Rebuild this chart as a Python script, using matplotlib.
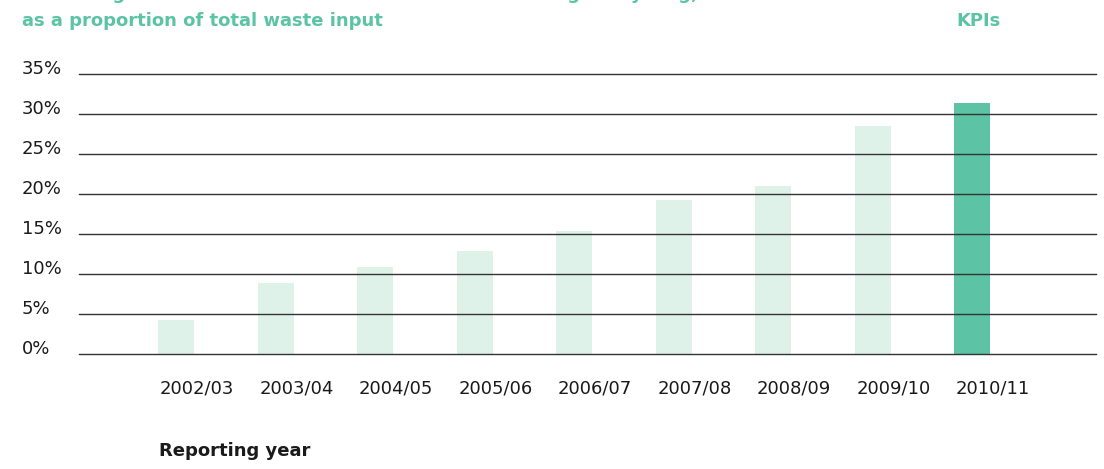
import matplotlib
matplotlib.use("Agg")
import matplotlib.pyplot as plt
import matplotlib.transforms as mtransforms

# data
years = ["2002/03", "2003/04", "2004/05", "2005/06", "2006/07",
         "2007/08", "2008/09", "2009/10", "2010/11"]
values = [4.3, 8.9, 10.9, 12.9, 15.4, 19.3, 21.0, 28.5, 31.4]
y_ticks = [0, 5, 10, 15, 20, 25, 30, 35]
y_labels = ["0%", "5%", "10%", "15%", "20%", "25%", "30%", "35%"]

title_top = "Percentage of total waste diverted from landfill through recycling,"
title_bottom = "as a proportion of total waste input"

green = "#5cc4a4"
pale = "#dff2ea"
plt.rcParams["font.family"] = ["DejaVu Sans"]

fig = plt.figure(figsize=(11.04, 4.69), dpi=100)
ax = fig.add_axes([79 / 1104, 1 - 354.3 / 469, 1017 / 1104, 280 / 469])

x = list(range(len(years)))
colors = [pale] * (len(years) - 1) + [green]
ax.bar(x, values, width=0.362, color=colors, zorder=1)

for t in y_ticks:
    ax.axhline(t, color="#333333", lw=1.0, zorder=2, clip_on=False)

ax.set_xlim(-0.975, 9.246)
ax.set_ylim(0, 35)
for s in ax.spines.values():
    s.set_visible(False)
ax.set_yticks([])
ax.set_xticks(x)
ax.set_xticklabels(years, fontsize=13, color="#1a1a1a")
ax.tick_params(axis="x", length=0, pad=18)
# year labels sit a little right of the bars in the reference
shift = mtransforms.ScaledTranslation(21 / 100, 0, fig.dpi_scale_trans)
for lab in ax.get_xticklabels():
    lab.set_transform(lab.get_transform() + shift)

# y labels left aligned at the figure's left, a bit above each line
trans = mtransforms.blended_transform_factory(fig.transFigure, ax.transData)
off = mtransforms.offset_copy(trans, fig=fig, y=5, units="dots")
for t, lab in zip(y_ticks, y_labels):
    ax.text(22 / 1104, t, lab, transform=off, ha="left", va="center",
            fontsize=13, color="#1a1a1a", clip_on=False)

# first title line is cut by the top edge in the reference
fig.text(22 / 1104, 1 + 0.5 / 469, title_top, fontsize=13, fontweight="bold",
         color=green, ha="left", va="baseline")
fig.text(22 / 1104, 1 - 26 / 469, title_bottom, fontsize=13, fontweight="bold",
         color=green, ha="left", va="baseline")
fig.text(956 / 1104, 1 - 26 / 469, "KPIs", fontsize=13, fontweight="bold",
         color=green, ha="left", va="baseline")
fig.text(159 / 1104, 1 - 451 / 469, "Reporting year", fontsize=13,
         fontweight="bold", color="#1a1a1a", ha="left", va="center")

fig.savefig("out.png", dpi=100)
